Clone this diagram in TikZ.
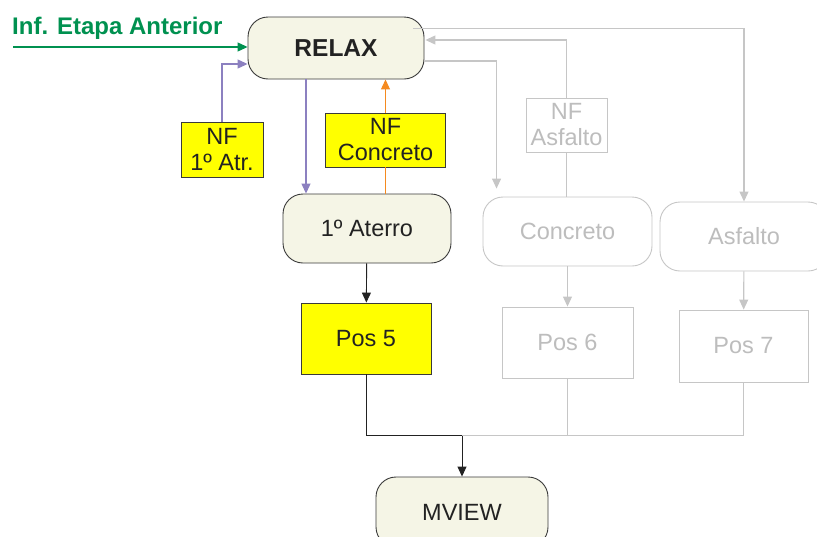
\documentclass[tikz,border=0pt]{standalone}
\usepackage{fontspec}
\setmainfont{Liberation Sans}
\usepackage{tikz}
\usetikzlibrary{calc,arrows.meta}
\definecolor{RelaxInk}{HTML}{222222}
\definecolor{RelaxFill}{HTML}{F5F5E6}
\definecolor{RelaxEdge}{HTML}{3A3A3A}
\definecolor{RelaxYellow}{HTML}{FFFF00}
\definecolor{RelaxGreen}{HTML}{009150}
\definecolor{RelaxPurple}{HTML}{8C80C0}
\definecolor{RelaxOrange}{HTML}{F58A1F}
\definecolor{RelaxGrey}{HTML}{C6C6C6}
\definecolor{RelaxGreyText}{HTML}{BDBDBD}

\begin{document}
\begin{tikzpicture}[
  x=1pt,y=-1pt,
  every node/.style={inner sep=0pt,align=center,font=\fontsize{23.5}{26}\selectfont},
  rbox/.style={draw=RelaxEdge,fill=RelaxFill,text=RelaxInk,rounded corners=20pt,line width=.9pt},
  ybox/.style={draw=RelaxEdge,fill=RelaxYellow,text=RelaxInk,line width=.9pt},
  gbox/.style={draw=RelaxGrey,fill=white,text=RelaxGreyText,rounded corners=20pt,line width=.9pt},
  gpos/.style={draw=RelaxGrey,fill=white,text=RelaxGreyText,line width=.9pt},
  tip/.style={-{Triangle[length=10pt,width=9pt]}},
  flow/.style={draw=RelaxInk,line width=.9pt},
  prev/.style={draw=RelaxGreen,line width=1.1pt},
  atr/.style={draw=RelaxPurple,line width=1.1pt},
  conc/.style={draw=RelaxOrange,line width=1.1pt},
  off/.style={draw=RelaxGrey,line width=1.1pt}
]
\clip (0,0) rectangle (817,536);
% main boxes
\node[rbox,minimum width=176pt,minimum height=62pt,font=\fontsize{24.5}{26}\selectfont\bfseries] (relax) at (336,48) {RELAX};
\node[rbox,minimum width=168pt,minimum height=69pt] (aterro) at (367,228.5) {1º Aterro};
\node[ybox,minimum width=130pt,minimum height=71pt] (pos5) at (366,338.5) {Pos 5};
\node[gbox,minimum width=169pt,minimum height=69pt] (concreto) at (567.5,231.5) {Concreto};
\node[gbox,minimum width=168pt,minimum height=69pt] (asfalto) at (744,236.5) {Asfalto};
\node[gpos,minimum width=131pt,minimum height=71pt] (pos6) at (567.5,342.5) {Pos 6};
\node[gpos,minimum width=129pt,minimum height=72pt] (pos7) at (743.5,346) {Pos 7};
\node[rbox,minimum width=172pt,minimum height=70pt] (mview) at (462,512) {MVIEW};
% NF boxes
\node[ybox,minimum width=82pt,minimum height=55pt] (nfatr) at (222,149.5) {NF\\1º Atr.};
\node[ybox,minimum width=120pt,minimum height=54pt] (nfconc) at (385.5,140) {NF\\Concreto};
\node[gpos,minimum width=81pt,minimum height=54pt] (nfasf) at (566.5,125) {NF\\Asfalto};
% previous stage
\node[text=RelaxGreen,font=\fontsize{24}{26}\selectfont\bfseries,anchor=base west] (inf) at (12,34) {Inf. Etapa Anterior};
\coordinate (infstart) at (13,47);
\draw[prev,tip] (infstart) -- (infstart -| relax.west);
% feedback loops
\coordinate (relaxdown) at ($(relax.south)+(-30,0)$);
\draw[atr,tip] (nfatr.north) |- ($(relax.west)+(0,16)$);
\draw[atr,tip] (relaxdown) -- (relaxdown |- aterro.north);
\draw[conc] (nfconc.south) -- (nfconc.south |- aterro.north);
\draw[conc,tip] (nfconc.north) -- (nfconc.north |- relax.south);
\draw[off] (nfasf.south) -- (nfasf.south |- concreto.north);
\draw[off,tip] (nfasf.north) |- ($(relax.east)+(1,-8)$);
\draw[off,tip] ($(relax.east)+(0,13)$) -| ($(concreto.north west)+(14,-8)$);
\draw[off,tip] ($(relax.north east)+(-11,12)$) -| (asfalto.north);
% down to positions
\draw[flow,tip] (aterro) -- (pos5);
\draw[off,tip] (concreto) -- (pos6);
\draw[off,tip] (asfalto) -- (pos7);
% merge into MVIEW
\coordinate (merge) at ($(mview.north)+(0,-41)$);
\draw[off] (pos7.south) |- (merge);
\draw[off] (pos6.south) -- (pos6.south |- merge);
\draw[flow] (pos5.south) |- (merge);
\draw[flow,tip] (merge) -- (mview.north);
\end{tikzpicture}
\end{document}
